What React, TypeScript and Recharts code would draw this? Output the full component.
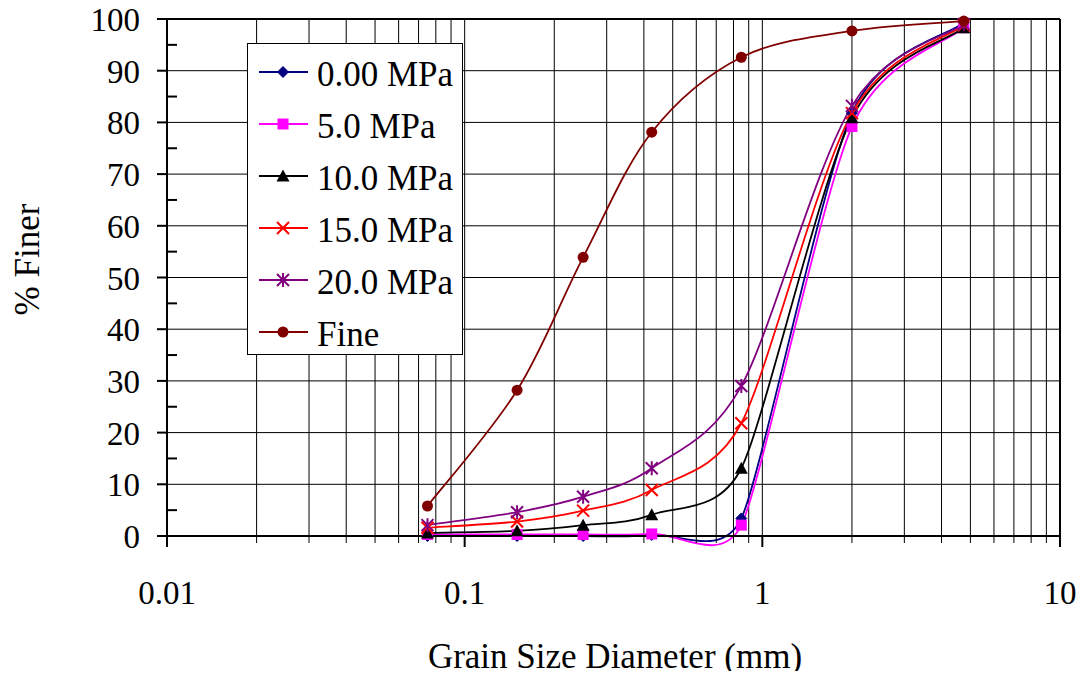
import React from 'react';
import { LineChart, Line, XAxis, YAxis, CartesianGrid, ReferenceLine, Legend, Label } from 'recharts';

// ---------- data ----------
const sieveSizes = [0.075, 0.15, 0.25, 0.425, 0.85, 2.0, 4.75];
const mpa0 = [0, 0, 0, 0.2, 3.4, 81.8, 99.3];
const mpa5 = [0.3, 0.3, 0.3, 0.4, 2.1, 79.2, 98.3];
const mpa10 = [0.6, 1.0, 2.1, 4.1, 13.1, 80.9, 98.3];
const mpa15 = [1.6, 2.8, 4.9, 8.9, 21.8, 81.8, 98.8];
const mpa20 = [2.1, 4.6, 7.6, 13.1, 29.0, 83.2, 99.0];
const fine = [5.8, 28.2, 53.9, 78.1, 92.6, 97.7, 99.6];

const seriesNames = ['0.00 MPa', '5.0 MPa', '10.0 MPa', '15.0 MPa', '20.0 MPa', 'Fine'];

const xMajorTicks = [0.01, 0.1, 1, 10];
const xGridTicks = [
  0.01, 0.02, 0.03, 0.04, 0.05, 0.06, 0.07, 0.08, 0.09,
  0.1, 0.2, 0.3, 0.4, 0.5, 0.6, 0.7, 0.8, 0.9,
  1, 2, 3, 4, 5, 6, 7, 8, 9, 10,
];
const yMajorTicks = [0, 10, 20, 30, 40, 50, 60, 70, 80, 90, 100];
const yAllTicks = [0, 5, 10, 15, 20, 25, 30, 35, 40, 45, 50, 55, 60, 65, 70, 75, 80, 85, 90, 95, 100];

const xTitle = 'Grain Size Diameter (mm)';
const yTitle = '% Finer';

// ---------- styling ----------
const FONT = '"Liberation Serif", "Times New Roman", Times, serif';
const GRID = '#000000';

type Marker = 'diamond' | 'square' | 'triangle' | 'x' | 'star' | 'circle';

const series: { key: string; name: string; values: number[]; color: string; marker: Marker }[] = [
  { key: 'p0', name: seriesNames[0], values: mpa0, color: '#000080', marker: 'diamond' },
  { key: 'p5', name: seriesNames[1], values: mpa5, color: '#FF00FF', marker: 'square' },
  { key: 'p10', name: seriesNames[2], values: mpa10, color: '#000000', marker: 'triangle' },
  { key: 'p15', name: seriesNames[3], values: mpa15, color: '#FF0000', marker: 'x' },
  { key: 'p20', name: seriesNames[4], values: mpa20, color: '#800080', marker: 'star' },
  { key: 'fine', name: seriesNames[5], values: fine, color: '#800000', marker: 'circle' },
];

const data = sieveSizes.map((x, i) => {
  const row: Record<string, number> = { x };
  series.forEach((s) => {
    row[s.key] = s.values[i];
  });
  return row;
});

// Excel-like smoothed curve (Bezier with capped Catmull-Rom tangents)
function excelCurve(context: any) {
  let pts: [number, number][] = [];
  const dist = (a: [number, number], b: [number, number]) => Math.hypot(b[0] - a[0], b[1] - a[1]);
  return {
    areaStart() {},
    areaEnd() {},
    lineStart() {
      pts = [];
    },
    point(x: number, y: number) {
      pts.push([+x, +y]);
    },
    lineEnd() {
      const n = pts.length;
      if (!n) return;
      context.moveTo(pts[0][0], pts[0][1]);
      if (n === 1) return;
      if (n === 2) {
        context.lineTo(pts[1][0], pts[1][1]);
        return;
      }
      const tan = pts.map((p, i) => {
        const a = pts[Math.max(0, i - 1)];
        const b = pts[Math.min(n - 1, i + 1)];
        let tx = (b[0] - a[0]) / 6;
        let ty = (b[1] - a[1]) / 6;
        const len = Math.hypot(tx, ty);
        const dPrev = i > 0 ? dist(pts[i - 1], p) : Infinity;
        const dNext = i < n - 1 ? dist(p, pts[i + 1]) : Infinity;
        const cap = Math.min(dPrev, dNext) / 2;
        if (len > cap && len > 0) {
          tx *= cap / len;
          ty *= cap / len;
        }
        return [tx, ty];
      });
      for (let i = 0; i < n - 1; i++) {
        const p = pts[i];
        const q = pts[i + 1];
        context.bezierCurveTo(
          p[0] + tan[i][0],
          p[1] + tan[i][1],
          q[0] - tan[i + 1][0],
          q[1] - tan[i + 1][1],
          q[0],
          q[1]
        );
      }
    },
  };
}

function renderMarker(kind: Marker, color: string, cx: number, cy: number, key?: string) {
  switch (kind) {
    case 'diamond':
      return (
        <polygon
          key={key}
          points={`${cx},${cy - 5.5} ${cx + 5.5},${cy} ${cx},${cy + 5.5} ${cx - 5.5},${cy}`}
          fill={color}
          stroke={color}
          strokeWidth={1}
        />
      );
    case 'square':
      return <rect key={key} x={cx - 5.5} y={cy - 5.5} width={11} height={11} fill={color} />;
    case 'triangle':
      return (
        <polygon
          key={key}
          points={`${cx},${cy - 6.5} ${cx + 6.5},${cy + 5.5} ${cx - 6.5},${cy + 5.5}`}
          fill={color}
        />
      );
    case 'x':
      return (
        <path
          key={key}
          d={`M${cx - 6},${cy - 6}L${cx + 6},${cy + 6}M${cx + 6},${cy - 6}L${cx - 6},${cy + 6}`}
          stroke={color}
          strokeWidth={2}
          fill="none"
        />
      );
    case 'star':
      return (
        <path
          key={key}
          d={`M${cx - 6},${cy - 6}L${cx + 6},${cy + 6}M${cx + 6},${cy - 6}L${cx - 6},${cy + 6}M${cx},${cy - 7}L${cx},${cy + 7}`}
          stroke={color}
          strokeWidth={2}
          fill="none"
        />
      );
    default:
      return <circle key={key} cx={cx} cy={cy} r={5.5} fill={color} />;
  }
}

const XTick = (props: any) => {
  const { x, y, payload } = props;
  const v = payload.value;
  const major = xMajorTicks.some((m) => Math.abs(m - v) < 1e-9);
  return (
    <g>
      {major ? (
        <line x1={x} x2={x} y1={y} y2={y + 11} stroke="#000" strokeWidth={2} />
      ) : (
        <line x1={x} x2={x} y1={y} y2={y + 7} stroke={GRID} strokeWidth={1} />
      )}
      {major && (
        <text x={x} y={y + 68} textAnchor="middle" fontSize={33} fontFamily={FONT} fill="#000">
          {String(v)}
        </text>
      )}
    </g>
  );
};

const YTick = (props: any) => {
  const { x, y, payload } = props;
  const v = payload.value;
  const major = yMajorTicks.includes(v);
  return (
    <g>
      {major ? (
        <line x1={x - 10} x2={x} y1={y} y2={y} stroke="#000" strokeWidth={2} />
      ) : (
        <line x1={x} x2={x + 10} y1={y} y2={y} stroke="#000" strokeWidth={2} />
      )}
      {major && (
        <text x={x - 27} y={y + 12} textAnchor="end" fontSize={33} fontFamily={FONT} fill="#000">
          {String(v)}
        </text>
      )}
    </g>
  );
};

const renderLegend = () => (
  <svg width={216} height={312} style={{ display: 'block' }}>
    <rect x={0.5} y={0.5} width={215} height={311} fill="#fff" stroke="#000" strokeWidth={1} />
    {series.map((s, i) => {
      const cy = 29 + 52 * i;
      return (
        <g key={s.key}>
          <line x1={12} x2={61} y1={cy} y2={cy} stroke={s.color} strokeWidth={2} />
          {renderMarker(s.marker, s.color, 36, cy)}
          <text x={70} y={cy + 14} fontSize={35} fontFamily={FONT} fill="#000">
            {s.name}
          </text>
        </g>
      );
    })}
  </svg>
);

export default function App() {
  return (
    <div style={{ width: 1085, height: 679, margin: -8, fontFamily: FONT, background: '#fff' }}>
      <LineChart width={1085} height={679} data={data} margin={{ top: 19, right: 25, bottom: 0, left: 8 }}>
        <CartesianGrid stroke={GRID} strokeWidth={1} horizontalValues={yMajorTicks} verticalValues={xGridTicks} />
        <XAxis
          dataKey="x"
          type="number"
          scale="log"
          domain={[0.01, 10]}
          ticks={xGridTicks}
          interval={0}
          height={143}
          tickSize={0}
          tickMargin={0}
          tickLine={false}
          tick={<XTick />}
          axisLine={{ stroke: '#000', strokeWidth: 2 }}
        >
          <Label
            content={() => (
              <text x={615} y={668} textAnchor="middle" fontSize={35} fontFamily={FONT} fill="#000">
                {xTitle}
              </text>
            )}
          />
        </XAxis>
        <YAxis
          type="number"
          domain={[0, 100]}
          ticks={yAllTicks}
          interval={0}
          width={159}
          tickSize={0}
          tickMargin={0}
          tickLine={false}
          tick={<YTick />}
          axisLine={{ stroke: '#000', strokeWidth: 2 }}
        >
          <Label
            content={() => (
              <text
                x={39}
                y={259.5}
                transform="rotate(-90 39 259.5)"
                textAnchor="middle"
                fontSize={35}
                fontFamily={FONT}
                fill="#000"
              >
                {yTitle}
              </text>
            )}
          />
        </YAxis>
        <ReferenceLine y={100} stroke="#000" strokeWidth={2} />
        <ReferenceLine x={10} stroke="#000" strokeWidth={2} />
        {series.map((s) => (
          <Line
            key={s.key}
            dataKey={s.key}
            name={s.name}
            type={excelCurve as any}
            stroke={s.color}
            strokeWidth={1.8}
            isAnimationActive={false}
            activeDot={false}
            dot={(p: any) => renderMarker(s.marker, s.color, p.cx, p.cy, `${s.key}-${p.index}`)}
          />
        ))}
        <Legend
          content={renderLegend}
          layout="vertical"
          align="center"
          verticalAlign="middle"
          wrapperStyle={{ left: 247, top: 43, width: 216, height: 312 }}
        />
      </LineChart>
    </div>
  );
}
